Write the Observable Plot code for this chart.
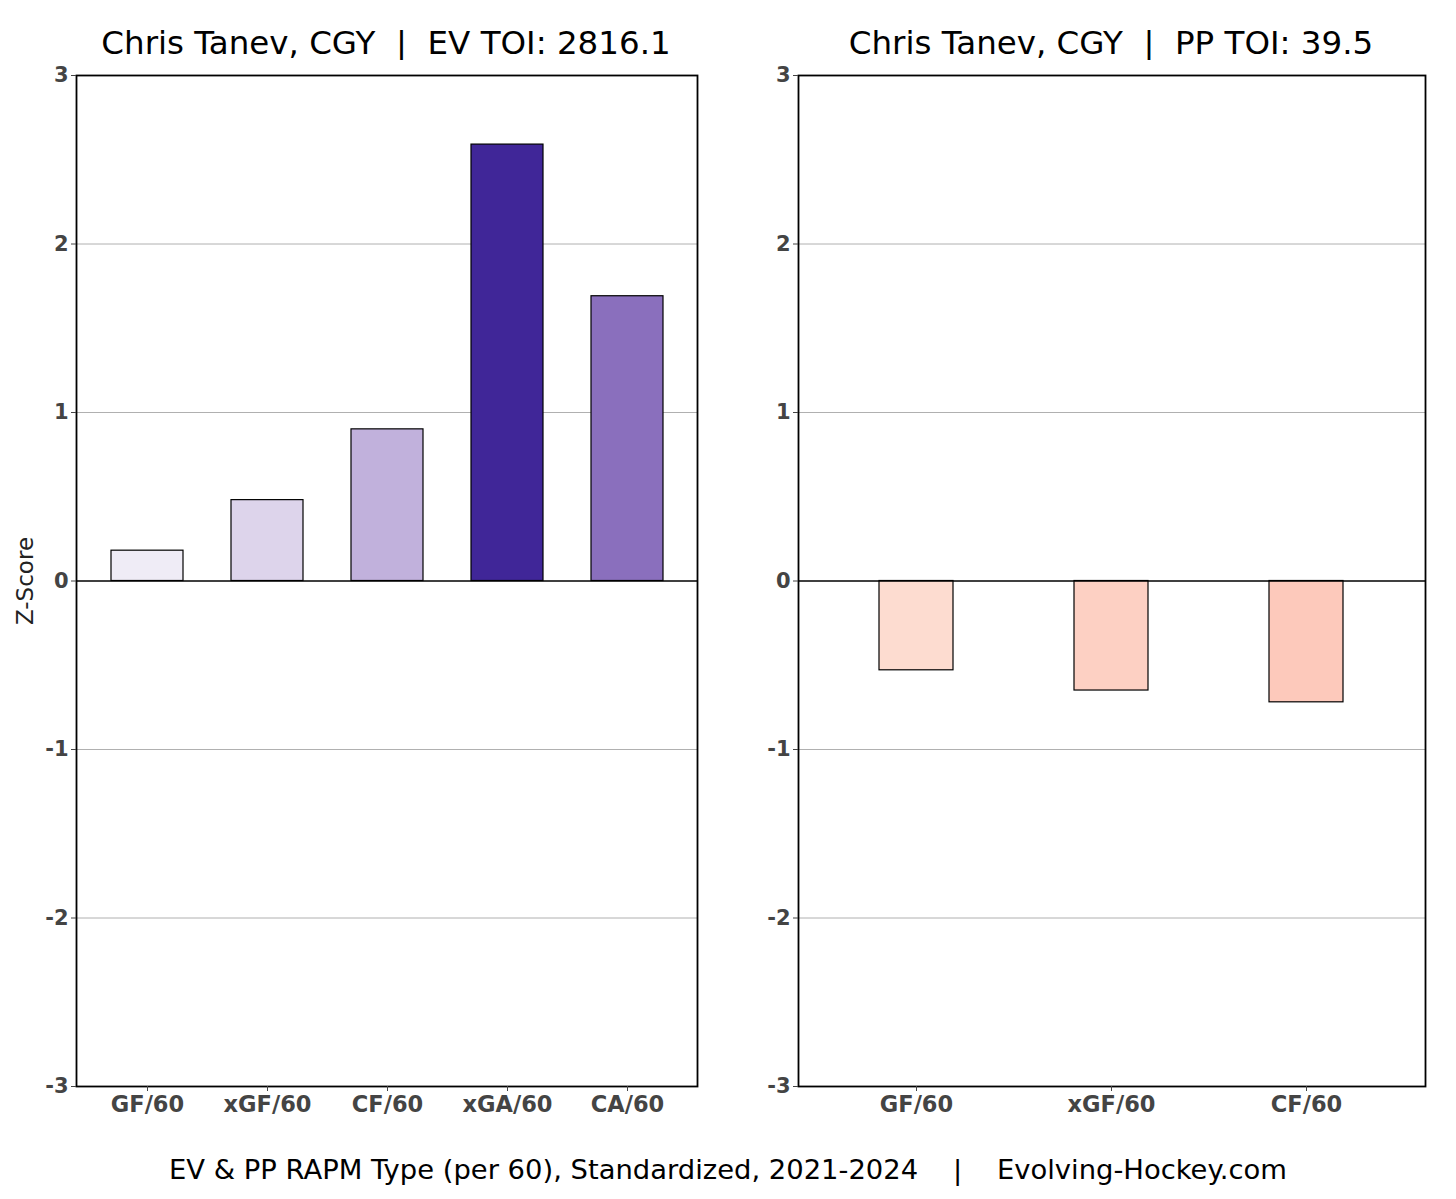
<!DOCTYPE html>
<html>
<head>
<meta charset="utf-8">
<script src="https://cdn.jsdelivr.net/npm/d3@7"></script>
<script src="https://cdn.jsdelivr.net/npm/@observablehq/plot@0.6"></script>
<style>
  html, body { margin: 0; padding: 0; background: #fff; }
  body { width: 1456px; height: 1199px; position: relative; font-family: "DejaVu Sans", sans-serif; overflow: hidden; }
  .title { position: absolute; top: 23px; font-size: 32.5px; line-height: 40px; color: #000; white-space: pre; transform: translateX(-50%); }
  .caption { position: absolute; top: 1153px; left: 728px; transform: translateX(-50%); font-size: 27.4px; line-height: 34px; white-space: pre; color: #000; }
  .panel { position: absolute; top: 60px; }
</style>
</head>
<body>
<div class="title" style="left:386px">Chris Tanev, CGY  |  EV TOI: 2816.1</div>
<div class="title" style="left:1111px">Chris Tanev, CGY  |  PP TOI: 39.5</div>
<div id="left" class="panel" style="left:0px"></div>
<div id="right" class="panel" style="left:720px"></div>
<div class="caption">EV &amp; PP RAPM Type (per 60), Standardized, 2021-2024    |    Evolving-Hockey.com</div>
<script>
// ---- data ----
const evCategories = ["GF/60", "xGF/60", "CF/60", "xGA/60", "CA/60"];
const evValues = [0.18, 0.48, 0.90, 2.59, 1.69];
const ppCategories = ["GF/60", "xGF/60", "CF/60"];
const ppValues = [-0.53, -0.65, -0.72];
const yTicks = [-3, -2, -1, 0, 1, 2, 3];
// ---- styles ----
const evPalette = ["#efecf6", "#ddd4eb", "#c1b1dc", "#402698", "#8a6fbd"];
const ppPalette = ["#fddcd0", "#fdd0c3", "#fdc9bb"];

function panel(cats, vals, palette, opts) {
  const data = cats.map((c, i) => ({metric: c, value: vals[i]}));
  const font = "DejaVu Sans";
  return Plot.plot({
    width: opts.width,
    height: 1080,
    marginLeft: opts.marginLeft,
    marginRight: opts.marginRight,
    marginTop: 15,
    marginBottom: 54,
    style: {fontFamily: font, background: "#fff"},
    x: {domain: cats, paddingInner: opts.padInner, paddingOuter: opts.padOuter, label: null},
    y: {domain: [-3, 3], label: null},
    color: {domain: cats, range: palette},
    marks: [
      Plot.gridY(yTicks.filter(d => d !== 0 && Math.abs(d) !== 3), {stroke: "#b0b0b0", strokeOpacity: 1, strokeWidth: 1}),
      Plot.barY(data, {x: "metric", y: "value", fill: "metric", stroke: "#000", strokeWidth: 1.2}),
      Plot.ruleY([0], {stroke: "#000", strokeWidth: 1.6}),
      Plot.frame({stroke: "#000", strokeWidth: 1.8}),
      Plot.axisY(yTicks, {
        tickSize: 5, tickPadding: 3, fontSize: 21, fontWeight: "bold", color: "#444", stroke: "#444",
        tickFormat: d => String(d),
        label: opts.yLabel, labelAnchor: "center", labelArrow: "none", labelOffset: 60
      }),
      Plot.axisX({tickSize: 5, tickPadding: 5, fontSize: 22.5, fontWeight: "bold", color: "#444", stroke: "#444", label: null})
    ]
  });
}

const left = panel(evCategories, evValues, evPalette, {width: 720, marginLeft: 76, marginRight: 23, padInner: 0.4, padOuter: 0.283, yLabel: "Z-Score"});
const right = panel(ppCategories, ppValues, ppPalette, {width: 736, marginLeft: 78, marginRight: 31, padInner: 0.62, padOuter: 0.413, yLabel: null});
document.getElementById("left").appendChild(left);
document.getElementById("right").appendChild(right);
// style the y label
d3.select(left).selectAll("[aria-label='y-axis label'] text").attr("font-size", 23).attr("font-weight", "normal").attr("fill", "#222");
</script>
</body>
</html>
